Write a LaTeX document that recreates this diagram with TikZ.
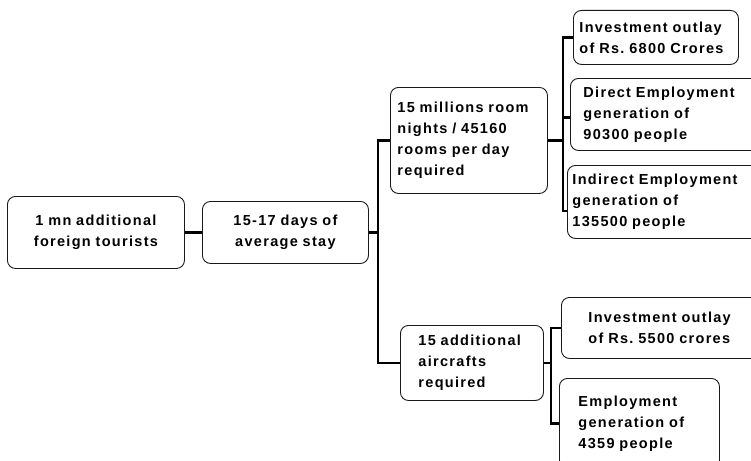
\documentclass[tikz,border=0pt]{standalone}
\usepackage{fontspec}
\newfontfamily\boxfont{Liberation Sans}[LetterSpace=9]
\usepackage{tikz}
\usepackage{xcolor}
\definecolor{edge}{HTML}{1A1A1A}
\frenchspacing
\tikzset{
  box/.style={draw=edge,line width=0.9pt,rounded corners=8pt,anchor=north west,align=left,
    font=\boxfont\bfseries\fontsize{14.5}{21}\selectfont,inner ysep=2pt},
  link/.style={line width=2.4pt,draw=black}
}

\begin{document}
\begin{tikzpicture}[x=1pt,y=-1pt]
    \useasboundingbox (0,0) rectangle (751,460);
    \clip (0,0) rectangle (751,460);
    \node[box,align=center,inner xsep=4pt,text width=169pt,minimum height=72pt] (tourists) at (7,196) {1 mn additional\\foreign tourists};
    \node[box,align=center,inner xsep=4pt,text width=158pt,minimum height=62pt] (stay) at (202,201) {15-17 days of\\average stay};
    \node[box,inner xsep=7pt,text width=143pt,minimum height=106pt] (rooms) at (390,87) {15 millions room\\nights / 45160\\rooms per day\\required};
    \node[box,inner xsep=6pt,text width=153pt,minimum height=54pt] (hotelinv) at (573,10) {Investment outlay\\of Rs. 6800 Crores};
    \node[box,inner xsep=13pt,text width=174pt,minimum height=72pt] (direct) at (570,78) {Direct Employment\\generation of\\90300 people};
    \node[box,inner xsep=5pt,text width=190pt,minimum height=73pt] (indirect) at (567,165) {Indirect Employment\\generation of\\135500 people};
    \node[box,inner xsep=18pt,text width=107pt,minimum height=75pt] (aircraft) at (400,325) {15 additional\\aircrafts\\required};
    \node[box,inner xsep=27pt,text width=146pt,minimum height=61pt] (airinv) at (561,297) {Investment outlay\\of Rs. 5500 crores};
    \node[box,inner xsep=19pt,text width=122pt,minimum height=90pt] (airjobs) at (559,378) {Employment\\generation of\\4359 people};
    % trunk
    \draw[link] (tourists) -- (stay);
    \draw[link] (stay.east) -- ++(9,0) coordinate (split);
    \draw[link] (rooms.west) -| (split) |- (aircraft.west);
    % hotel branch
    \draw[link] (rooms.east) -- ++(15,0) coordinate (hotelsplit);
    \draw[link] (hotelinv.west) -| (hotelsplit) |- ([yshift=-9pt]indirect.west);
    \draw[link] (hotelsplit) |- ([yshift=-3pt]direct.west);
    % aircraft branch
    \draw[link] (aircraft.east) -- ++(7,0) coordinate (airsplit);
    \draw[link] (airinv.west) -| (airsplit) |- (airjobs.west);
  \end{tikzpicture}
\end{document}
